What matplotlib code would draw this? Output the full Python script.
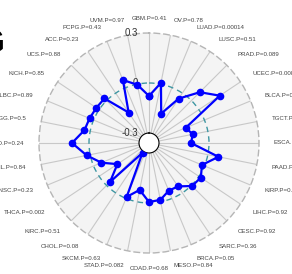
import numpy as np
import matplotlib
matplotlib.use("Agg")
import matplotlib.pyplot as plt

plt.rcParams['font.family'] = ['Liberation Sans', 'DejaVu Sans']

# cancer types, clockwise from the top
cancers = ['GBM', 'OV', 'LUAD', 'LUSC', 'PRAD', 'UCEC', 'BLCA', 'TGCT',
           'ESCA', 'PAAD', 'KIRP', 'LIHC', 'CESC', 'SARC', 'BRCA', 'MESO',
           'COAD', 'STAD', 'SKCM', 'CHOL', 'KIRC', 'THCA', 'HNSC', 'LAML',
           'READ', 'LGG', 'DLBC', 'KICH', 'UCS', 'ACC', 'PCPG', 'UVM']
pvals = ['0.41', '0.78', '0.00014', '0.51', '0.089', '0.008', '0.0', '0.',
         '', '', '0.2', '0.92', '0.92', '0.36', '0.05', '0.84',
         '0.68', '0.082', '0.63', '0.08', '0.51', '0.002', '0.23', '0.84',
         '0.24', '0.5', '0.89', '0.85', '0.88', '0.23', '0.43', '0.97']
# correlation values
values = [-0.078, 0.008, -0.169, -0.040, 0.071, 0.151, -0.122, -0.092,
          -0.108, 0.065, -0.016, 0.014, 0.005, -0.047, -0.050, -0.012,
          -0.006, -0.073, -0.010, -0.290, -0.029, -0.132, -0.051, 0.021,
          0.102, 0.035, 0.026, 0.020, 0.018, -0.140, 0.049, -0.004]
rticks = [0.3, 0, -0.3]
rtick_labels = ['0.3', '0', '-0.3']

W, H = 292, 274
cx, cy, R = 149, 143, 110
fig = plt.figure(figsize=(W / 100, H / 100), dpi=100)
ax = fig.add_axes([(cx - R) / W, (H - cy - R) / H, 2 * R / W, 2 * R / H],
                  projection='polar')
ax.set_theta_zero_location('N')
ax.set_theta_direction(-1)
ax.set_ylim(-0.3, 0.3)
ax.set_rorigin(-0.36)
ax.set_facecolor('#f4f4f4')

n = len(cancers)
theta = np.arange(n) * 2 * np.pi / n
ax.set_xticks(theta)
ax.set_xticklabels([])
ax.set_yticks([0])
ax.set_yticklabels([])
ax.xaxis.grid(True, color='#c8c8c8', linewidth=0.8)
ax.yaxis.grid(True, color='#3f97a3', linewidth=1.0, linestyle=(0, (4, 3)))
ax.spines['polar'].set_color('#b5b5b5')
ax.spines['polar'].set_linestyle((0, (4, 3)))
ax.spines['polar'].set_linewidth(1.0)
ax.spines['inner'].set_visible(False)

tt = np.append(theta, theta[0])
vv = np.append(values, values[0])
ax.plot(tt, vv, color='#0000ff', linewidth=1.6, marker='o', markersize=4.5,
        zorder=5)

for v, lab in zip(rticks, rtick_labels):
    ax.annotate(lab, xy=(0, v), xytext=(-11, 0), textcoords='offset pixels',
                ha='right', va='center', fontsize=7, color='#333333')

r_lab = 0.39
for th, c, p in zip(theta, cancers, pvals):
    s = np.sin(th)
    if s > 0.05:
        ha = 'left'
    elif s < -0.05:
        ha = 'right'
    else:
        ha = 'center'
    ax.text(th, r_lab, f'{c}.P={p}', ha=ha, va='center', fontsize=4.4,
            color='#444444')

fig.text(4.5 / W, 1 - 53 / H, 'G', ha='right', va='baseline',
         fontsize=25, fontweight='bold', color='black')

fig.savefig('out.png', dpi=100)
